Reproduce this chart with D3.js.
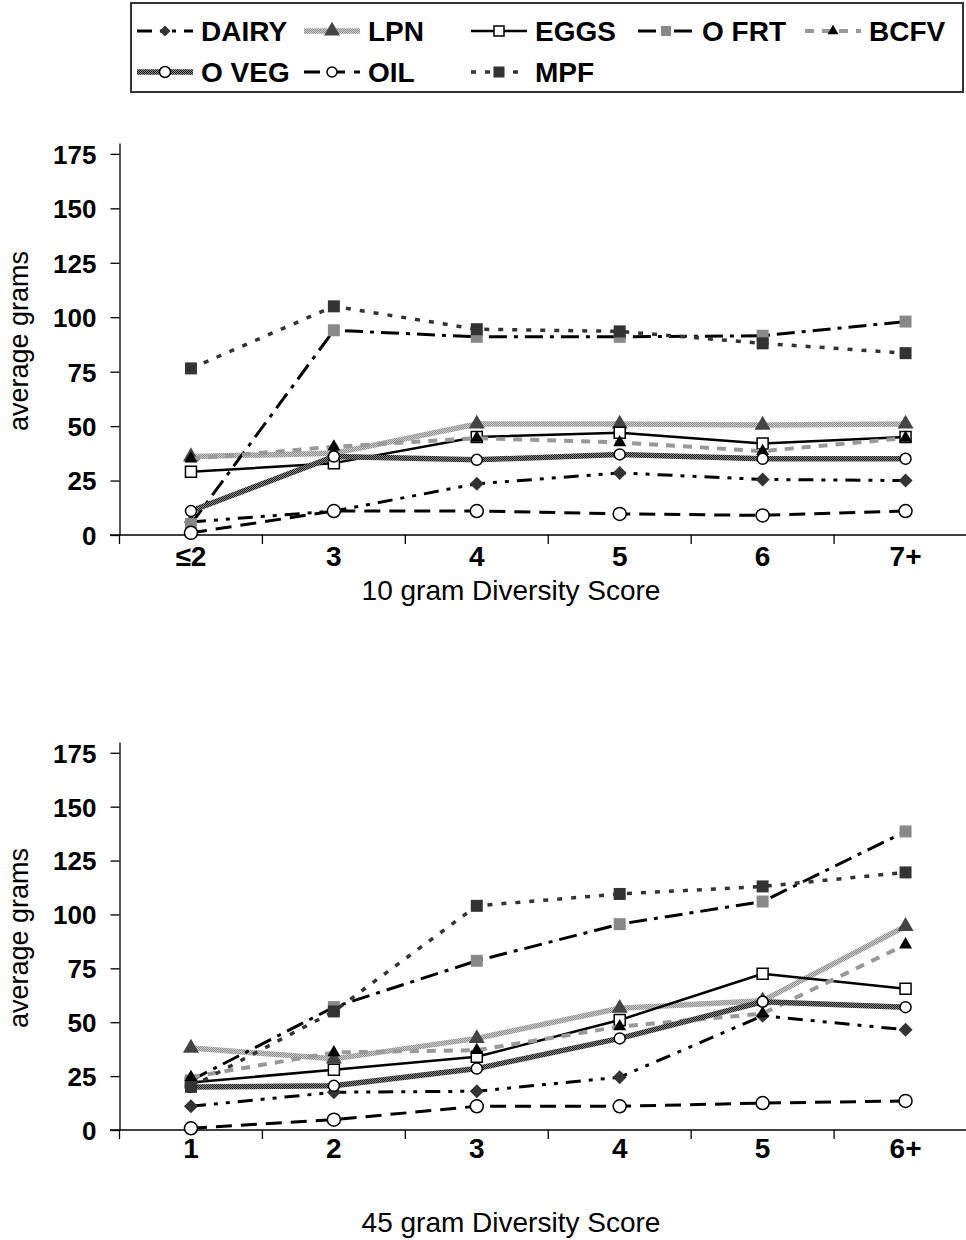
<!DOCTYPE html>
<html>
<head>
<meta charset="utf-8">
<script src="https://cdn.jsdelivr.net/npm/d3@7"></script>
<style>
html,body{margin:0;padding:0;background:#fff;}
svg{display:block;}
text{font-family:"Liberation Sans",Arial,Helvetica,sans-serif;fill:#000;}
</style>
</head>
<body>
<svg id="chart" width="966" height="1240"></svg>
<script>
// ---------------- DATA ----------------
const seriesNames = ["DAIRY","LPN","EGGS","O FRT","BCFV","O VEG","OIL","MPF"];
const cats10 = ["≤2","3","4","5","6","7+"];
const cats45 = ["1","2","3","4","5","6+"];
const yTicks = [0,25,50,75,100,125,150,175];

// 10 gram diversity score (top panel)
const dairy10 = [6, 11, 23.5, 28.5, 25.5, 25];
const lpn10   = [36, 37.5, 51, 51, 50.5, 51];
const eggs10  = [29, 33, 45, 47, 42, 45];
const ofrt10  = [5, 94, 91, 91, 91.5, 98];
const bcfv10  = [35, 40.5, 44.5, 42.5, 38.5, 44.5];
const oveg10  = [11, 36, 34.5, 37, 35, 35];
const oil10   = [1, 11, 11, 9.7, 9, 11];
const mpf10   = [76.5, 105, 94.5, 93.5, 88, 83.5];

// 45 gram diversity score (bottom panel)
const dairy45 = [11, 17.5, 18, 24.5, 53, 46.5];
const lpn45   = [38, 33, 42.5, 56.5, 60, 94.5];
const eggs45  = [22, 28, 34, 51, 72.5, 65.5];
const ofrt45  = [23, 57, 78.5, 95.5, 106, 138.5];
const bcfv45  = [24.5, 36, 37, 48, 54, 86];
const oveg45  = [20, 20.5, 28.5, 42.5, 59.5, 57];
const oil45   = [0.8, 4.8, 11, 11, 12.5, 13.5];
const mpf45   = [20, 55, 104, 109.5, 113, 119.5];

const top10 = [dairy10, lpn10, eggs10, ofrt10, bcfv10, oveg10, oil10, mpf10];
const bot45 = [dairy45, lpn45, eggs45, ofrt45, bcfv45, oveg45, oil45, mpf45];

// ---------------- STYLES ----------------
const styles = {
  "DAIRY": {stroke:"#000", width:3, dash:"15,8,4,8,4,8", sym:"diamond", fill:"#333", mstroke:"none", msize:14, lsize:11},
  "LPN":   {stroke:"url(#texLight)", width:5.5, dash:null, sym:"triangle", fill:"#444", mstroke:"none", msize:16, lsize:16},
  "EGGS":  {stroke:"#000", width:2.5, dash:null, sym:"square", fill:"#fff", mstroke:"#000", msize:11, lsize:10},
  "O FRT": {stroke:"#000", width:3, dash:"18,7,4,7", sym:"square", fill:"#888", mstroke:"none", msize:12, lsize:10},
  "BCFV":  {stroke:"#999", width:4, dash:"9,8", sym:"triangle", fill:"#000", mstroke:"none", msize:13, lsize:11},
  "O VEG": {stroke:"url(#texDark)", width:5.5, dash:null, sym:"circle", fill:"#fff", mstroke:"#000", msize:11, lsize:11},
  "OIL":   {stroke:"#000", width:3, dash:"16,9", sym:"circle", fill:"#fff", mstroke:"#000", msize:13, lsize:10},
  "MPF":   {stroke:"#333", width:3.5, dash:"5,9", sym:"square", fill:"#333", mstroke:"none", msize:12, lsize:11}
};

const svg = d3.select("#chart");
const defs = svg.append("defs");
function checker(id, a, b){
  const p = defs.append("pattern").attr("id", id).attr("patternUnits","userSpaceOnUse")
    .attr("width",2).attr("height",2);
  p.append("rect").attr("width",2).attr("height",2).attr("fill",a);
  p.append("rect").attr("width",1).attr("height",1).attr("fill",b);
  p.append("rect").attr("x",1).attr("y",1).attr("width",1).attr("height",1).attr("fill",b);
}
checker("texLight","#cfcfcf","#8a8a8a");
checker("texDark","#8a8a8a","#1a1a1a");

function symbolPath(type, size){
  if(type==="square") return d3.symbol().type(d3.symbolSquare).size(size*size)();
  if(type==="diamond") return d3.symbol().type(d3.symbolSquare).size(size*size/2)();
  if(type==="triangle") return d3.symbol().type(d3.symbolTriangle).size(Math.sqrt(3)/4*size*size)();
  if(type==="circle") return d3.symbol().type(d3.symbolCircle).size(Math.PI*(size/2)*(size/2))();
}
function drawMarker(g, st, x, y, size){
  g.append("path").attr("d", symbolPath(st.sym, size))
    .attr("transform", `translate(${x},${y})` + (st.sym==="diamond" ? " rotate(45)" : ""))
    .attr("fill", st.fill)
    .attr("stroke", st.mstroke)
    .attr("stroke-width", st.mstroke==="none" ? 0 : 1.5);
}

// ---------------- LEGEND ----------------
svg.append("rect").attr("x",131).attr("y",3).attr("width",832).attr("height",89)
  .attr("fill","#fff").attr("stroke","#333").attr("stroke-width",2);
const legX = d3.scalePoint().domain(d3.range(5)).range([165, 833]);
seriesNames.forEach((name,i)=>{
  const st = styles[name];
  const col = i % 5, row = Math.floor(i/5);
  const cx = legX(col), cy = row===0 ? 31 : 72;
  const g = svg.append("g");
  g.append("line").attr("x1",cx-28).attr("x2",cx+28).attr("y1",cy).attr("y2",cy)
    .attr("stroke",st.stroke).attr("stroke-width",st.width)
    .attr("stroke-dasharray",st.dash ? st.dash : null);
  drawMarker(g, st, cx, cy, st.lsize);
  g.append("text").attr("x",cx+36).attr("y",cy+10).attr("font-size",28).attr("font-weight","bold").text(name);
});

// ---------------- PANELS ----------------
function panel(cats, data, yTop, yZero, xTitle, labOff, titleOff){
  const x = d3.scaleBand().domain(cats).range([119.5, 977]).paddingInner(0).paddingOuter(0);
  const y = d3.scaleLinear().domain([0,180]).range([yZero, yTop]);
  const g = svg.append("g");

  // y axis
  const yAxis = d3.axisLeft(y).tickValues(yTicks).tickSize(9).tickSizeOuter(0).tickPadding(14);
  const ya = g.append("g").attr("transform","translate(119.5,0)").call(yAxis);
  ya.selectAll("path.domain").attr("stroke","#000").attr("stroke-width",1.3);
  ya.selectAll(".tick line").attr("stroke","#000").attr("stroke-width",1.3);
  ya.selectAll(".tick text").attr("font-size",26).attr("font-weight","bold")
    .attr("font-family",'"Liberation Sans",Arial,sans-serif').attr("fill","#000").attr("dy","0.36em");

  // x axis
  g.append("line").attr("x1",110).attr("x2",977).attr("y1",yZero).attr("y2",yZero)
    .attr("stroke","#000").attr("stroke-width",1.3);
  g.selectAll(".xt").data(cats).enter().append("line")
    .attr("x1",d=>x(d)).attr("x2",d=>x(d)).attr("y1",yZero).attr("y2",yZero+9)
    .attr("stroke","#000").attr("stroke-width",1.3);
  g.selectAll(".xl").data(cats).enter().append("text")
    .attr("x",d=>x(d)+x.bandwidth()/2).attr("y",yZero+labOff)
    .attr("text-anchor","middle").attr("font-size",28).attr("font-weight","bold").text(d=>d);
  g.append("text").attr("x",511).attr("y",yZero+titleOff)
    .attr("text-anchor","middle").attr("font-size",28).text(xTitle);
  g.append("text").attr("transform",`translate(28,${(yTop+yZero)/2 + 2}) rotate(-90)`)
    .attr("text-anchor","middle").attr("font-size",27).text("average grams");

  const line = d3.line().x((d,i)=>x(cats[i])+x.bandwidth()/2).y(d=>y(d));
  seriesNames.forEach((name,si)=>{
    const st = styles[name];
    const vals = data[si];
    const sg = g.append("g");
    sg.append("path").attr("d", line(vals)).attr("fill","none")
      .attr("stroke",st.stroke).attr("stroke-width",st.width)
      .attr("stroke-dasharray",st.dash).attr("stroke-linejoin","round");
    vals.forEach((v,i)=>drawMarker(sg, st, x(cats[i])+x.bandwidth()/2, y(v), st.msize));
  });
}

panel(cats10, top10, 143, 535, "10 gram Diversity Score", 31, 65);
panel(cats45, bot45, 742, 1130, "45 gram Diversity Score", 28, 102);
</script>
</body>
</html>
